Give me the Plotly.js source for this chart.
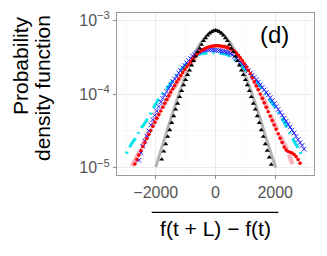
<!DOCTYPE html>
<html>
<head>
<meta charset="utf-8">
<script src="https://cdn.plot.ly/plotly-3.0.1.min.js"></script>
<style>html,body{margin:0;padding:0;background:#fff;}#chart{width:327px;height:256px;}</style>
</head>
<body>
<div id="chart"></div>
<script>
// Black triangles (narrow empirical distribution)
const blackX = [-1800,-1733,-1667,-1600,-1533,-1467,-1400,-1333,-1267,-1200,-1133,-1067,-1000,-933,-867,-800,-733,-667,-600,-533,-467,-400,-333,-267,-200,-133,-67,0,67,133,200,267,333,400,467,533,600,667,733,800,867,933,1000,1067,1133,1200,1267,1333,1400,1467,1533,1600,1667,1733,1800,1867];
const blackY = [1.29e-5,1.66e-5,2.09e-5,2.63e-5,3.24e-5,4.07e-5,5.01e-5,6.17e-5,7.41e-5,9.12e-5,1.10e-4,1.32e-4,1.55e-4,1.82e-4,2.09e-4,2.45e-4,2.82e-4,3.24e-4,3.72e-4,4.17e-4,4.68e-4,5.25e-4,5.75e-4,6.24e-4,6.68e-4,7.00e-4,7.24e-4,7.33e-4,7.24e-4,7.00e-4,6.68e-4,6.24e-4,5.75e-4,5.25e-4,4.68e-4,4.17e-4,3.72e-4,3.24e-4,2.82e-4,2.45e-4,2.09e-4,1.82e-4,1.55e-4,1.32e-4,1.10e-4,9.12e-5,7.41e-5,6.17e-5,5.01e-5,4.07e-5,3.24e-5,2.63e-5,2.09e-5,1.70e-5,1.38e-5,1.10e-5];

// Grey fitted curve
const greyX = [-2000,-1750,-1500,-1250,-1000,-750,-500,-250,0,250,500,750,1000,1250,1500,1750,2020];
const greyY = [1.02e-5,2.19e-5,4.57e-5,9.33e-5,1.78e-4,3.16e-4,4.90e-4,6.46e-4,7.24e-4,6.46e-4,4.90e-4,3.16e-4,1.78e-4,9.33e-5,4.57e-5,2.14e-5,1.0e-5];

// Red dots
const redX = [-2700,-2633,-2567,-2500,-2433,-2367,-2300,-2233,-2167,-2100,-2033,-1967,-1900,-1833,-1767,-1700,-1633,-1567,-1500,-1433,-1367,-1300,-1233,-1167,-1100,-1033,-967,-900,-833,-767,-700,-633,-567,-500,-433,-367,-300,-233,-167,-100,-33,33,100,167,233,300,367,433,500,567,633,700,767,833,900,967,1033,1100,1167,1233,1300,1367,1433,1500,1567,1633,1700,1767,1833,1900,1967,2033,2100,2167,2233,2300,2367,2433,2500,2567,2633,2700,2767,2833];
const redY = [1.12e-5,1.29e-5,1.48e-5,1.70e-5,1.93e-5,2.19e-5,2.48e-5,2.82e-5,3.20e-5,3.63e-5,4.12e-5,4.68e-5,5.25e-5,5.89e-5,6.61e-5,7.50e-5,8.41e-5,9.44e-5,1.06e-4,1.17e-4,1.30e-4,1.45e-4,1.60e-4,1.78e-4,1.95e-4,2.14e-4,2.34e-4,2.54e-4,2.75e-4,2.99e-4,3.20e-4,3.43e-4,3.63e-4,3.80e-4,3.98e-4,4.12e-4,4.25e-4,4.35e-4,4.42e-4,4.47e-4,4.50e-4,4.52e-4,4.51e-4,4.49e-4,4.45e-4,4.40e-4,4.33e-4,4.23e-4,4.11e-4,3.98e-4,3.80e-4,3.59e-4,3.35e-4,3.09e-4,2.82e-4,2.57e-4,2.32e-4,2.09e-4,1.88e-4,1.66e-4,1.46e-4,1.29e-4,1.14e-4,1.00e-4,8.71e-5,7.59e-5,6.61e-5,5.75e-5,5.01e-5,4.37e-5,3.80e-5,3.31e-5,2.88e-5,2.51e-5,2.19e-5,1.91e-5,1.74e-5,1.66e-5,1.62e-5,1.58e-5,1.51e-5,1.41e-5,1.29e-5,1.15e-5];

// Pink fitted curve (for red)
const pinkX = [-2800,-2600,-2400,-2200,-2000,-1800,-1600,-1400,-1200,-1000,-800,-600,-400,-200,0,200,400,600,800,1000,1200,1400,1600,1800,2000,2200,2400,2580];
const pinkY = [1.05e-5,1.48e-5,2.19e-5,3.16e-5,4.47e-5,6.31e-5,8.71e-5,1.20e-4,1.62e-4,2.14e-4,2.69e-4,3.31e-4,3.89e-4,4.27e-4,4.47e-4,4.37e-4,4.07e-4,3.63e-4,3.02e-4,2.40e-4,1.78e-4,1.26e-4,8.51e-5,5.62e-5,3.72e-5,2.51e-5,1.74e-5,1.12e-5];

// Blue crosses
const blueX = [-2567,-2500,-2433,-2367,-2300,-2233,-2167,-2100,-2033,-1967,-1900,-1833,-1767,-1700,-1633,-1567,-1500,-1433,-1367,-1300,-1233,-1167,-1100,-1033,-967,-900,-833,-767,-700,-633,-567,-500,-433,-367,-300,-233,-167,-100,-33,33,100,167,233,300,367,433,500,567,633,700,767,833,900,967,1033,1100,1167,1233,1300,1367,1433,1500,1567,1633,1700,1767,1833,1900,1967,2033,2100,2167,2233,2300,2367,2433,2500,2567,2633,2700,2767,2833,2900,2967];
const blueY = [1.26e-5,1.58e-5,1.95e-5,2.29e-5,2.69e-5,3.16e-5,3.80e-5,4.47e-5,5.13e-5,5.89e-5,6.76e-5,7.76e-5,8.71e-5,9.77e-5,1.08e-4,1.20e-4,1.33e-4,1.48e-4,1.60e-4,1.76e-4,1.93e-4,2.09e-4,2.26e-4,2.45e-4,2.66e-4,2.85e-4,3.05e-4,3.27e-4,3.47e-4,3.63e-4,3.76e-4,3.85e-4,3.91e-4,3.95e-4,3.98e-4,4.00e-4,4.00e-4,3.98e-4,3.95e-4,3.92e-4,3.89e-4,3.85e-4,3.80e-4,3.76e-4,3.70e-4,3.63e-4,3.55e-4,3.39e-4,3.24e-4,3.05e-4,2.88e-4,2.72e-4,2.54e-4,2.37e-4,2.21e-4,2.07e-4,1.93e-4,1.80e-4,1.68e-4,1.57e-4,1.45e-4,1.33e-4,1.23e-4,1.14e-4,1.05e-4,9.66e-5,8.91e-5,8.13e-5,7.41e-5,6.76e-5,6.17e-5,5.62e-5,5.13e-5,4.68e-5,4.27e-5,3.89e-5,3.55e-5,3.24e-5,2.95e-5,2.66e-5,2.40e-5,2.19e-5,2.00e-5,1.78e-5];

// Cyan dash-dot fitted curve
const cyanX = [-2990,-2833,-2633,-2523,-2357,-2167,-2023,-1857,-1657,-1400,-1200,-1000,-800,-600,-400,-200,0,200,400,600,800,1000,1200,1400,1600,1800,2033,2253,2477,2700,2810,2920];
const cyanY = [1.55e-5,2.04e-5,2.69e-5,3.31e-5,4.07e-5,5.50e-5,7.08e-5,9.12e-5,1.15e-4,1.58e-4,2.00e-4,2.51e-4,3.02e-4,3.39e-4,3.55e-4,3.63e-4,3.63e-4,3.55e-4,3.39e-4,3.02e-4,2.57e-4,2.14e-4,1.78e-4,1.45e-4,1.12e-4,8.51e-5,6.31e-5,4.47e-5,3.02e-5,2.04e-5,1.74e-5,1.32e-5];

const yTickVals = [1e-5, 1e-4, 1e-3];
const yTickText = ['10<sup>\u22125</sup>', '10<sup>\u22124</sup>', '10<sup>\u22123</sup>'];
const xTickVals = [-2000, 0, 2000];
const xTickText = ['\u22122000', '0', '2000'];
const xMinorGrid = [-3000, -1000, 1000, 3000];
const yMinorGrid = [3.1623e-5, 3.1623e-4];

const FONT = 'Liberation Sans, Arial, Helvetica, sans-serif';

const traces = [
  {x: greyX, y: greyY, type: 'scatter', mode: 'lines', line: {color: '#b3b3b3', width: 3, shape: 'spline'}, hoverinfo: 'skip'},
  {x: pinkX, y: pinkY, type: 'scatter', mode: 'lines', line: {color: '#f7b3bd', width: 4.5, shape: 'spline', dash: '16px,6px'}, hoverinfo: 'skip'},
  {x: cyanX, y: cyanY, type: 'scatter', mode: 'lines', line: {color: '#00e5ee', width: 3, shape: 'spline', dash: '2px,5px,11px,5px'}, hoverinfo: 'skip'},
  {x: blueX, y: blueY, type: 'scatter', mode: 'markers', marker: {symbol: 'x-thin-open', size: 4.5, color: '#2020ff', line: {color: '#2020ff', width: 1}}},
  {x: redX, y: redY, type: 'scatter', mode: 'markers', marker: {symbol: 'circle', size: 3.6, color: '#ff0000', line: {width: 0}}},
  {x: blackX, y: blackY, type: 'scatter', mode: 'markers', marker: {symbol: 'triangle-up', size: 4.5, color: '#000000', line: {width: 0}}}
];

const minorShapes = [];
xMinorGrid.forEach(v => minorShapes.push({type: 'line', layer: 'below', xref: 'x', yref: 'paper', x0: v, x1: v, y0: 0, y1: 1, line: {color: '#f3f3f3', width: 0.7}}));
yMinorGrid.forEach(v => minorShapes.push({type: 'line', layer: 'below', xref: 'paper', yref: 'y', x0: 0, x1: 1, y0: v, y1: v, line: {color: '#f3f3f3', width: 0.7}}));

const layout = {
  width: 327, height: 256,
  margin: {l: 117, r: 13, t: 13, b: 81, pad: 0},
  paper_bgcolor: '#ffffff', plot_bgcolor: '#ffffff',
  showlegend: false,
  font: {family: FONT, color: '#000000'},
  xaxis: {
    range: [-3300, 3300], tickmode: 'array', tickvals: xTickVals, ticktext: xTickText,
    ticks: 'outside', ticklen: 3, tickwidth: 1, tickcolor: '#8c8c8c',
    showline: true, linecolor: '#9a9a9a', linewidth: 1, mirror: true,
    showgrid: true, gridcolor: '#ebebeb', gridwidth: 1, zeroline: false,
    tickfont: {size: 16, color: '#555555', family: FONT},
    title: {text: 'f(t + L) \u2212 f(t)', font: {size: 21, color: '#000000', family: FONT}, standoff: 21},
    automargin: false
  },
  yaxis: {
    type: 'log', range: [-5.1, -2.9], tickmode: 'array', tickvals: yTickVals, ticktext: yTickText,
    ticks: 'outside', ticklen: 3, tickwidth: 1, tickcolor: '#8c8c8c',
    showline: true, linecolor: '#9a9a9a', linewidth: 1, mirror: true,
    showgrid: true, gridcolor: '#ebebeb', gridwidth: 1, zeroline: false,
    tickfont: {size: 16, color: '#555555', family: FONT}
  },
  annotations: [
    {text: '(d)', xref: 'paper', yref: 'paper', x: 0.802, y: 0.868, xanchor: 'center', yanchor: 'middle', showarrow: false, font: {size: 24, color: '#000000', family: FONT}},
    {text: 'Probability', xref: 'paper', yref: 'paper', x: (20 - 117) / 197, y: 1 - (66 - 13) / 162, xanchor: 'center', yanchor: 'middle', textangle: -90, showarrow: false, font: {size: 21, color: '#000000', family: FONT}},
    {text: 'density function', xref: 'paper', yref: 'paper', x: (42 - 117) / 197, y: 1 - (88 - 13) / 162, xanchor: 'center', yanchor: 'middle', textangle: -90, showarrow: false, font: {size: 21, color: '#000000', family: FONT}}
  ],
  shapes: minorShapes.concat([
    {type: 'line', xref: 'paper', yref: 'paper', x0: (151.7 - 117) / 197, x1: (278.3 - 117) / 197, y0: 1 - (212.3 - 13) / 162, y1: 1 - (212.3 - 13) / 162, line: {color: '#000000', width: 1.2}}
  ])
};

Plotly.newPlot('chart', traces, layout, {staticPlot: true, displayModeBar: false});
</script>
</body>
</html>
